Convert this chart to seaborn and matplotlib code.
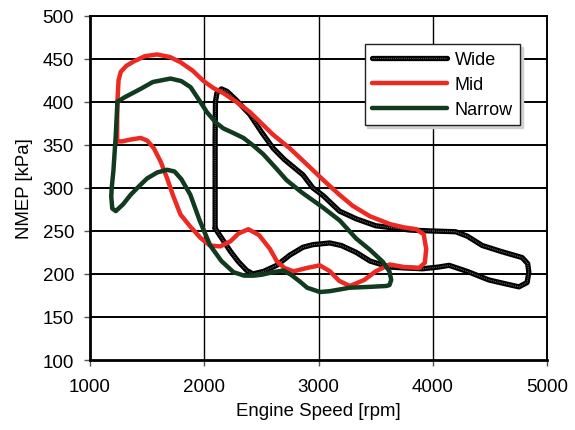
import numpy as np
import pandas as pd
import matplotlib
matplotlib.use('Agg')
import matplotlib.pyplot as plt
import seaborn as sns
from matplotlib.lines import Line2D
from matplotlib.legend_handler import HandlerTuple

# loop outlines, (rpm, kPa), traced round each closed region
wide_rpm = [2095, 2095, 2095, 2098, 2110, 2150, 2200, 2280, 2400, 2500, 2603, 2700, 2864, 2950, 3040,
            3183, 3330, 3500, 3620, 3800, 3969, 4200, 4300, 4433, 4600, 4782, 4830, 4840, 4825, 4753,
            4620, 4490, 4300, 4142, 4050, 3910, 3750, 3620, 3450, 3330, 3200, 3098, 2950, 2864, 2750,
            2634, 2520, 2425, 2372, 2300, 2230, 2150, 2095]
wide_kpa = [253, 300, 360, 400, 410, 415, 412, 402, 385, 365, 346, 333, 315, 300, 291,
            273, 264, 256, 254, 251, 250, 249, 244, 233, 226, 219, 212, 202, 190, 185,
            189, 193, 203, 210, 208, 206, 207, 208, 215, 225, 233, 236, 234, 231, 222,
            210, 203, 200, 204, 214, 226, 242, 253]

mid_rpm = [1238, 1238, 1240, 1250, 1270, 1320, 1385, 1480, 1588, 1700, 1792, 1900, 1995, 2080, 2168,
           2280, 2400, 2500, 2600, 2748, 2900, 3050, 3183, 3300, 3450, 3622, 3750, 3854, 3920, 3942,
           3930, 3880, 3750, 3622, 3500, 3400, 3273, 3180, 3100, 3011, 2900, 2780, 2700, 2634, 2575,
           2480, 2386, 2300, 2230, 2140, 2050, 1966, 1878, 1792, 1730, 1675, 1620, 1559, 1500, 1443,
           1350, 1280, 1238]
mid_kpa = [354, 380, 400, 425, 435, 442, 447, 453, 455, 452, 446, 436, 424, 416, 410,
           400, 388, 375, 362, 346, 327, 308, 292, 279, 267, 258, 254, 252, 246, 229,
           213, 207, 208, 211, 203, 193, 186, 192, 203, 210, 207, 203, 207, 215, 229,
           245, 252, 247, 238, 232, 233, 242, 255, 269, 290, 311, 330, 346, 355, 358,
           356, 354, 354]

narrow_rpm = [1240, 1300, 1443, 1550, 1705, 1800, 1880, 1950, 2023, 2100, 2168, 2250, 2343, 2430, 2517,
              2620, 2720, 2850, 3040, 3186, 3330, 3450, 3563, 3620, 3636, 3620, 3592, 3450, 3273, 3100,
              3012, 2900, 2838, 2760, 2692, 2600, 2500, 2430, 2350, 2256, 2150, 2052, 1960, 1878, 1800,
              1740, 1675, 1590, 1500, 1430, 1356, 1290, 1226, 1195, 1186, 1190, 1205, 1225, 1240]
narrow_kpa = [400, 405, 415, 423, 427, 424, 417, 403, 388, 376, 369, 364, 358, 349, 339,
              324, 309, 295, 277, 262, 241, 228, 214, 203, 193, 187, 186, 185, 184, 180,
              179, 184, 191, 199, 204, 202, 199, 198, 198, 202, 215, 233, 262, 292, 310,
              319, 321, 318, 311, 302, 292, 281, 273, 276, 290, 300, 320, 360, 400]

RED = '#ec2a22'
GREEN = '#113a1f'
SPECK = '#7a7a7a'
SPECK_LS = (0, (0.6, 0.9))

sns.set_style('white')
plt.rcParams['font.family'] = ['Liberation Sans', 'DejaVu Sans']
plt.rcParams['text.color'] = 'black'
plt.rcParams['axes.labelcolor'] = 'black'
plt.rcParams['xtick.labelcolor'] = 'black'
plt.rcParams['ytick.labelcolor'] = 'black'

fig = plt.figure(figsize=(5.75, 4.31), dpi=100)
ax = fig.add_axes([0.1565, 0.1624, 0.795, 0.7988])

wide = pd.DataFrame({'rpm': wide_rpm, 'kpa': wide_kpa})
mid = pd.DataFrame({'rpm': mid_rpm, 'kpa': mid_kpa})
narrow = pd.DataFrame({'rpm': narrow_rpm, 'kpa': narrow_kpa})

# grid first so the loops sit on top
ax.set_xlim(1000, 5000)
ax.set_ylim(100, 500)
ax.set_xticks(np.arange(1000, 5001, 1000))
ax.set_yticks(np.arange(100, 501, 50))
for yv in np.arange(150, 501, 50):
    ax.axhline(yv, color='black', lw=1.4, zorder=1)
for xv in np.arange(2000, 5001, 1000):
    ax.axvline(xv, color='black', lw=1.0, zorder=1)

sns.lineplot(data=wide, x='rpm', y='kpa', sort=False, estimator=None, ax=ax,
             color='black', lw=3.8, zorder=3, solid_joinstyle='round')
ax.plot(wide_rpm, wide_kpa, color=SPECK, lw=0.9, ls=SPECK_LS, zorder=4)
sns.lineplot(data=mid, x='rpm', y='kpa', sort=False, estimator=None, ax=ax,
             color=RED, lw=3.2, zorder=5, solid_joinstyle='round', solid_capstyle='round')
sns.lineplot(data=narrow, x='rpm', y='kpa', sort=False, estimator=None, ax=ax,
             color=GREEN, lw=3.2, zorder=6, solid_joinstyle='round', solid_capstyle='round')

h_wide = (Line2D([], [], color='black', lw=3.8),
          Line2D([], [], color=SPECK, lw=0.9, ls=SPECK_LS))
h_mid = Line2D([], [], color=RED, lw=3.2, solid_capstyle='round')
h_narrow = Line2D([], [], color=GREEN, lw=3.2, solid_capstyle='round')
leg = ax.legend([h_wide, h_mid, h_narrow], ['Wide', 'Mid', 'Narrow'],
                handler_map={tuple: HandlerTuple(ndivide=1, pad=0)},
                loc='upper right', bbox_to_anchor=(0.941, 0.918), borderaxespad=0,
                fontsize=13, handlelength=4.15, handletextpad=0.45, labelspacing=0.44,
                borderpad=0.4, fancybox=False, framealpha=1,
                edgecolor='#222222', shadow={'color': '#d0d0d0', 'alpha': 1})
leg.get_frame().set_linewidth(1.0)
leg.set_zorder(10)

for side in ['left', 'bottom', 'top', 'right']:
    ax.spines[side].set_color('black')
    ax.spines[side].set_linewidth(1.4)
ax.spines['left'].set_linewidth(2.0)
ax.spines['bottom'].set_linewidth(2.0)
ax.tick_params(axis='both', direction='out', length=4, width=1, color='#555555',
               labelsize=13.5, left=True, bottom=True)
ax.tick_params(axis='x', pad=9)
ax.tick_params(axis='y', pad=7.5)
ax.set_xlabel('Engine Speed [rpm]', fontsize=13.4, labelpad=5)
ax.set_ylabel('NMEP [kPa]', fontsize=13.4, labelpad=7)

fig.savefig('out.png', dpi=100)
